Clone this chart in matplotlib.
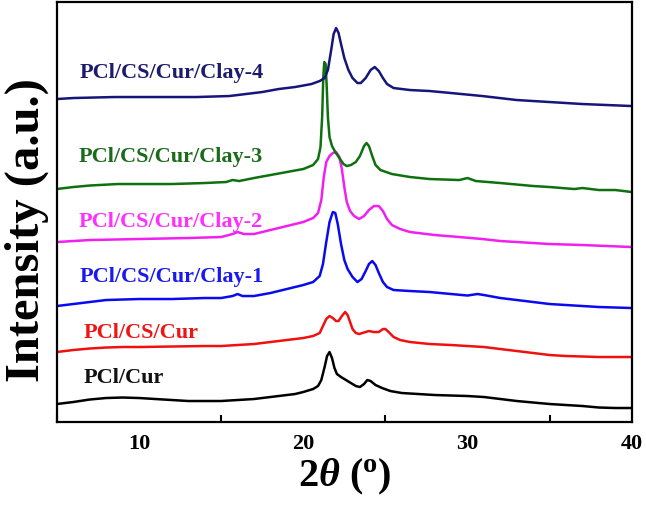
import matplotlib
matplotlib.use('Agg')
import matplotlib.pyplot as plt
from matplotlib.ticker import MultipleLocator

# XRD patterns (2theta in degrees, intensity in a.u.)
pcl_cur_x = [5, 6, 7, 8, 9, 10, 11, 12, 13, 14, 15, 16, 17, 18, 19, 19.5, 20, 20.6, 20.9, 21.1,
             21.3, 21.45, 21.6, 21.75, 21.9, 22.05, 22.3, 22.6, 22.9, 23.2, 23.45, 23.7, 23.9,
             24.1, 24.4, 24.8, 25.3, 26, 27, 28, 29, 30, 31, 32, 33, 34, 35, 36, 37, 38, 39, 40]
pcl_cur_y = [18, 20, 22.5, 24, 24.5, 24, 23, 22, 21, 21, 21, 22, 23, 25, 27, 28, 30, 33, 36, 42,
             55, 66, 70, 64, 54, 48, 45, 42, 39, 36, 35, 38, 42,
             41, 37, 34, 31, 29, 28, 27, 26.5, 26, 25, 23, 21, 19.5, 18, 17, 16, 14.5, 14, 14]

pcl_cs_x = [5, 6, 7, 8, 9, 10, 12, 14, 15, 16, 17, 18, 19, 20, 20.6, 21.0, 21.2, 21.4, 21.6,
            21.8, 22.0, 22.15, 22.35, 22.55, 22.7, 22.85, 23.0, 23.2, 23.4, 23.6, 23.8, 24.0,
            24.3, 24.6, 24.85, 25.0, 25.2, 25.5, 25.9, 26.5, 27.7, 29, 30, 31, 32, 33, 34, 35,
            36, 38, 40]
pcl_cs_y = [70, 72, 73.5, 74.5, 75, 75, 75.5, 76, 76, 77, 78, 80, 82, 84, 86, 89, 96, 103, 106,
            104, 101, 101, 106, 110, 107, 100, 93, 89, 88, 89, 90, 91,
            90, 90, 93, 93, 90, 85, 82, 80, 78, 77, 76, 75, 73, 71, 69, 67,
            66, 65, 65]

clay1_x = [5, 6, 7, 8, 10, 12, 14, 15, 15.7, 16.0, 16.3, 17, 18, 19, 20, 20.6, 21.0, 21.2,
           21.4, 21.6, 21.8, 21.95, 22.1, 22.3, 22.5, 22.7, 23.0, 23.3, 23.55, 23.8, 24.0, 24.2,
           24.4, 24.6, 24.85, 25.1, 25.5, 26.5, 27.7, 29, 30, 30.6, 31, 32, 33, 34, 35, 36, 37,
           38, 40]
clay1_y = [116, 118, 120, 122, 123, 123, 124, 124, 126, 128, 126, 126, 129, 133, 137, 140, 146, 158,
           180, 200, 210, 209, 198, 178, 162, 153, 145, 140, 143, 151, 158, 161,
           157, 149, 140, 135, 132, 131, 130, 128, 126.5, 128, 127, 124, 122, 120, 118, 117, 116,
           115, 114]

clay2_x = [5, 7, 10, 13, 15, 15.7, 16.0, 16.4, 17, 18, 19, 20, 20.6, 20.9, 21.1, 21.25, 21.4,
           21.6, 21.8, 22.0, 22.2, 22.35, 22.5, 22.65, 22.85, 23.1, 23.4, 23.7, 24.0, 24.3, 24.6,
           24.85, 25.1, 25.4, 25.9, 26.5, 28, 29.5, 30.9, 32, 35, 37, 40]
clay2_y = [180, 182, 183, 184, 185, 188, 190, 188, 188, 192, 196, 200, 204, 209, 222, 245, 260,
           266, 269, 270, 265, 253, 235, 220, 211, 206, 203, 206, 212, 216, 216,
           211, 203, 197, 193, 190, 187, 185, 183, 181, 178, 177, 175]

clay3_x = [5, 6, 7, 8.7, 10, 12, 14, 15.3, 15.7, 16.1, 17, 18, 19, 20, 20.6, 20.9, 21.05, 21.15,
           21.22, 21.28, 21.36, 21.43, 21.5, 21.6, 21.75, 21.95, 22.2, 22.45, 22.65, 22.9, 23.2,
           23.45, 23.7, 23.85, 24.0, 24.2, 24.4, 24.7, 25.4, 26.5, 27.7, 29.5, 30.0, 30.5, 32, 34,
           35, 36.5, 37, 38, 39, 40]
clay3_y = [233, 235, 236.5, 238, 238, 238, 239, 240, 242, 241, 244, 247, 250, 253, 257, 263, 275, 305,
           345, 360, 358, 335, 305, 285, 276, 270, 264, 258, 256, 257, 260,
           266, 276, 279, 276, 266, 257, 252, 248, 245, 243, 242, 244, 241, 239, 236,
           235, 233, 234, 232, 232, 230]

clay4_x = [5, 6, 8.5, 11, 13.5, 15.5, 16.5, 17.5, 18.5, 19.5, 20.5, 21.0, 21.3, 21.5, 21.7, 21.85,
           22.0, 22.15, 22.3, 22.5, 22.75, 23.0, 23.3, 23.5, 23.8, 24.1, 24.35, 24.6, 24.85, 25.1,
           25.5, 26.5, 27.7, 29, 30.9, 33, 35, 37, 40]
clay4_y = [323, 324, 325, 325, 325, 326, 328, 330, 333, 335, 338, 341, 344, 352, 372, 388,
           394, 389, 378, 364, 352, 344, 339, 339, 344, 352, 355, 351, 344, 338,
           334, 332, 331, 329, 326, 322, 320, 318, 316]

names = ['PCl/Cur', 'PCl/CS/Cur', 'PCl/CS/Cur/Clay-1', 'PCl/CS/Cur/Clay-2',
         'PCl/CS/Cur/Clay-3', 'PCl/CS/Cur/Clay-4']
label_x = [6.6, 6.6, 6.4, 6.3, 6.3, 6.4]
label_y = [45, 90, 146, 201, 266, 350]

line_colors = ['black', '#f01010', '#0a0af0', '#f020f0', '#0f700f', '#15157a']
text_colors = ['#111111', '#ee1515', '#1a1aee', '#ff30ff', '#1b6b1b', '#1c1c6e']

xs = [pcl_cur_x, pcl_cs_x, clay1_x, clay2_x, clay3_x, clay4_x]
ys = [pcl_cur_y, pcl_cs_y, clay1_y, clay2_y, clay3_y, clay4_y]

plt.rcParams['font.family'] = 'Liberation Serif'
plt.rcParams['mathtext.fontset'] = 'custom'
plt.rcParams['mathtext.rm'] = 'Liberation Serif:bold'
plt.rcParams['mathtext.it'] = 'Liberation Serif:italic:bold'
plt.rcParams['mathtext.bf'] = 'Liberation Serif:bold'

fig = plt.figure(figsize=(6.46, 5.06), dpi=100)
ax = fig.add_axes([0.088, 0.164, 0.89, 0.83])

for x, y, c in zip(xs, ys, line_colors):
    ax.plot(x, y, color=c, lw=1.8, solid_joinstyle='round')

for name, tx, ty, c in zip(names, label_x, label_y, text_colors):
    ax.text(tx, ty, name, color=c, fontsize=16, fontweight='bold', ha='left', va='center')

ax.set_xlim(5, 40)
ax.set_ylim(0, 420)
ax.xaxis.set_major_locator(MultipleLocator(10))
ax.xaxis.set_minor_locator(MultipleLocator(5))
ax.tick_params(axis='x', which='major', length=0, labelsize=16, pad=8)
ax.tick_params(axis='x', which='minor', direction='in', length=5, width=1.5)
for lab in ax.get_xticklabels():
    lab.set_fontweight('bold')
ax.set_yticks([])

for s in ax.spines.values():
    s.set_linewidth(1.6)

ax.set_xlabel(r'2$\theta$ ($^{\rm o}$)', fontsize=29, fontweight='bold', labelpad=2)
ax.set_ylabel('Intensity (a.u.)', fontsize=35, fontweight='bold')
ax.yaxis.set_label_coords(-0.014, 0.46)

fig.savefig('out.png', dpi=100)
